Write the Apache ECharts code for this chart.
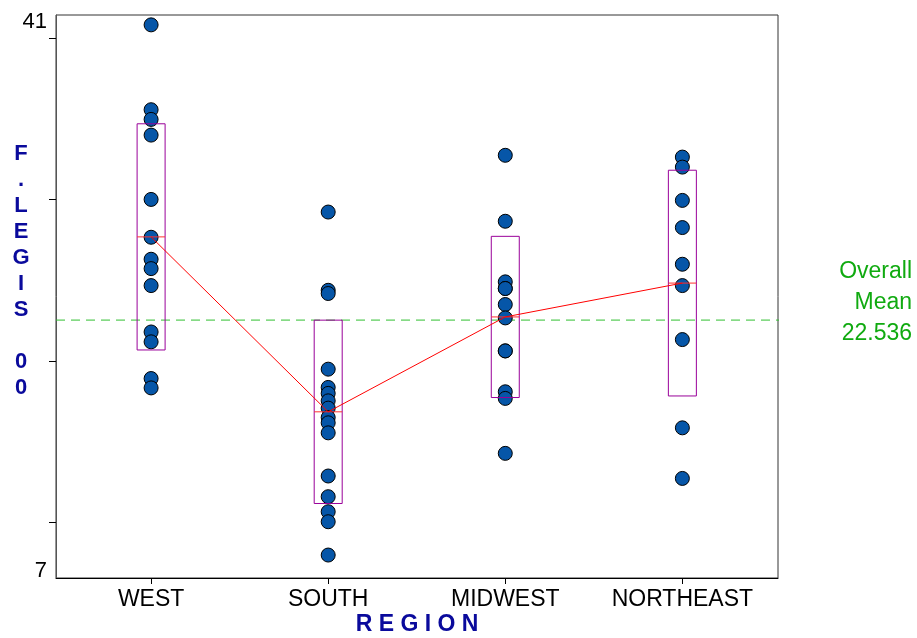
<!DOCTYPE html>
<html>
<head>
<meta charset="utf-8">
<script src="https://cdn.jsdelivr.net/npm/echarts@6/dist/echarts.min.js"></script>
<style>
html, body { margin: 0; padding: 0; background: #fff; }
#chart { width: 917px; height: 638px; }
</style>
</head>
<body>
<div id="chart"></div>
<script>
// values
const regions = ['WEST', 'SOUTH', 'MIDWEST', 'NORTHEAST'];
const west = [40.8, 35.55, 34.95, 33.98, 30.0, 27.66, 26.3, 25.72, 24.67, 21.8, 21.19, 18.92, 18.34];
const south = [29.22, 24.38, 24.18, 19.5, 18.37, 18.0, 17.54, 17.09, 16.51, 16.18, 15.56, 12.89, 11.61, 10.68, 10.06, 8.0];
const midwest = [32.73, 28.65, 24.9, 24.49, 24.49, 23.5, 22.67, 20.63, 20.63, 18.1, 17.69, 14.29];
const northeast = [32.62, 32.0, 29.94, 28.26, 25.99, 24.67, 21.33, 15.87, 12.74];
const overallMean = 22.536;
const yTicks = [10, 20, 30, 40];
const yLabels = [7, 41];
const xTicks = [1, 2, 3, 4];

const groups = [west, south, midwest, northeast];

function mean(a) {
  return a.reduce((s, v) => s + v, 0) / a.length;
}
function sd(a) {
  const m = mean(a);
  return Math.sqrt(a.reduce((s, v) => s + (v - m) * (v - m), 0) / (a.length - 1));
}

const points = [];
groups.forEach((g, i) => g.forEach(v => points.push([i + 1, v])));
const means = groups.map((g, i) => [i + 1, mean(g)]);
const boxes = groups.map((g, i) => [i + 1, mean(g), sd(g)]);

const font = 'Liberation Sans, Arial, sans-serif';
const titleBlue = '#0a0a9c';

const chart = echarts.init(document.getElementById('chart'));

chart.setOption({
  animation: false,
  grid: {
    left: 56,
    top: 15,
    right: 139,
    bottom: 60,
    outerBoundsMode: 'none',
    containLabel: false,
    show: true,
    borderColor: '#333',
    borderWidth: 1
  },
  graphic: [
    {
      type: 'text',
      right: 5,
      top: 256,
      style: {
        text: 'Overall\nMean\n' + overallMean,
        align: 'right',
        textAlign: 'right',
        fill: '#10aa10',
        font: '23px ' + font,
        lineHeight: 31
      }
    }
  ],
  xAxis: {
    type: 'value',
    min: 0.463,
    max: 4.54,
    name: 'R E G I O N',
    nameLocation: 'middle',
    nameGap: 35,
    nameMoveOverlap: false,
    nameTextStyle: {
      color: titleBlue,
      fontSize: 23,
      fontWeight: 'bold',
      fontFamily: font
    },
    axisLine: { lineStyle: { color: '#000', width: 1 } },
    axisTick: { customValues: xTicks, length: 6, lineStyle: { color: '#000' } },
    axisLabel: {
      customValues: xTicks,
      formatter: v => regions[Math.round(v) - 1],
      color: '#000',
      fontSize: 23,
      fontFamily: font,
      margin: 10
    },
    splitLine: { show: false }
  },
  yAxis: {
    type: 'value',
    min: 6.58,
    max: 41.41,
    // two trailing blank lines lift the stacked name
    name: 'F\n.\nL\nE\nG\nI\nS\n\n0\n0\n\n',
    nameLocation: 'middle',
    nameRotate: 0,
    nameGap: 35,
    nameMoveOverlap: false,
    nameTextStyle: {
      color: titleBlue,
      fontSize: 22,
      fontWeight: 'bold',
      fontFamily: font,
      lineHeight: 26,
      align: 'center'
    },
    axisLine: { lineStyle: { color: '#555', width: 1 } },
    axisTick: { customValues: yTicks, length: 7, lineStyle: { color: '#000' } },
    axisLabel: {
      customValues: yLabels,
      formatter: v => Math.round(v),
      color: '#000',
      fontSize: 22,
      fontFamily: font,
      margin: 9
    },
    splitLine: { show: false }
  },
  series: [
    {
      type: 'line',
      data: [[0.463, overallMean], [4.63, overallMean]],
      clip: false,
      symbol: 'none',
      lineStyle: { color: '#30bf30', width: 1, type: [9, 6] },
      z: 1
    },
    {
      type: 'scatter',
      data: points,
      symbolSize: 14,
      itemStyle: { color: '#0656a8', borderColor: '#000', borderWidth: 1, opacity: 1 },
      z: 2
    },
    {
      type: 'custom',
      data: boxes,
      encode: { x: 0, y: 1 },
      renderItem: (params, api) => {
        const x = api.value(0);
        const m = api.value(1);
        const s = api.value(2);
        const top = api.coord([x, m + s]);
        const bot = api.coord([x, m - s]);
        const mid = api.coord([x, m]);
        const half = 14;
        return {
          type: 'group',
          children: [
            {
              type: 'rect',
              shape: { x: top[0] - half, y: top[1], width: half * 2, height: bot[1] - top[1] },
              style: { fill: 'none', stroke: '#990099', lineWidth: 1 }
            },
            {
              type: 'line',
              shape: { x1: mid[0] - half, y1: mid[1], x2: mid[0] + half, y2: mid[1] },
              style: { stroke: '#ff3030', lineWidth: 1 }
            }
          ]
        };
      },
      z: 3
    },
    {
      type: 'line',
      data: means,
      symbol: 'none',
      lineStyle: { color: '#ff0000', width: 1 },
      z: 4
    }
  ]
});
</script>
</body>
</html>
